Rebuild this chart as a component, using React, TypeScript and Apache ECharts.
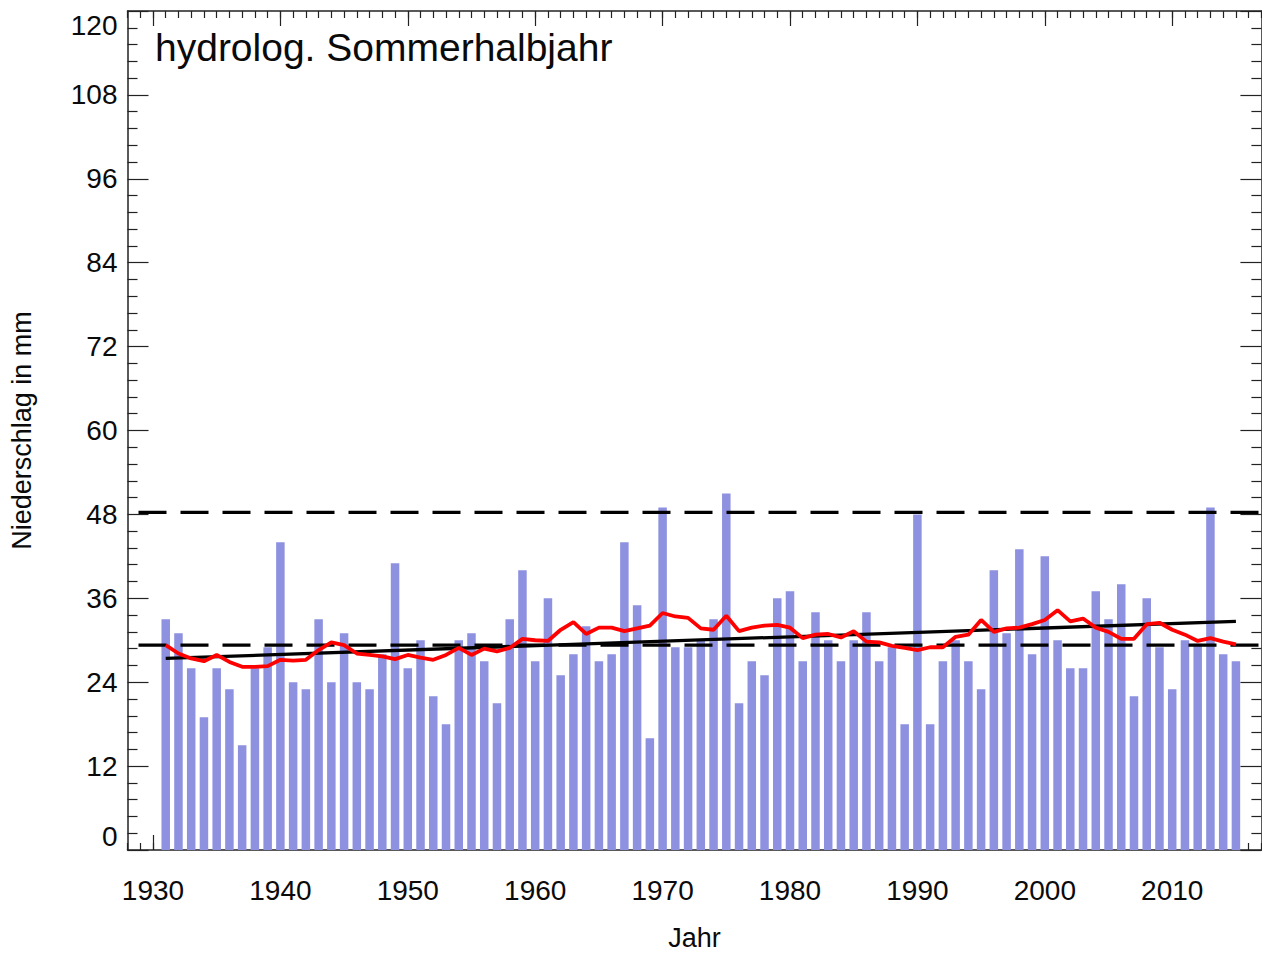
import React, { useEffect, useRef } from "react";
import * as echarts from "echarts";

const years = [
  1931, 1932, 1933, 1934, 1935, 1936, 1937, 1938, 1939, 1940,
  1941, 1942, 1943, 1944, 1945, 1946, 1947, 1948, 1949, 1950,
  1951, 1952, 1953, 1954, 1955, 1956, 1957, 1958, 1959, 1960,
  1961, 1962, 1963, 1964, 1965, 1966, 1967, 1968, 1969, 1970,
  1971, 1972, 1973, 1974, 1975, 1976, 1977, 1978, 1979, 1980,
  1981, 1982, 1983, 1984, 1985, 1986, 1987, 1988, 1989, 1990,
  1991, 1992, 1993, 1994, 1995, 1996, 1997, 1998, 1999, 2000,
  2001, 2002, 2003, 2004, 2005, 2006, 2007, 2008, 2009, 2010,
  2011, 2012, 2013, 2014, 2015,
];

const precipitation = [
  33, 31, 26, 19, 26, 23, 15, 26, 29, 44,
  24, 23, 33, 24, 31, 24, 23, 28, 41, 26,
  30, 22, 18, 30, 31, 27, 21, 33, 40, 27,
  36, 25, 28, 32, 27, 28, 44, 35, 16, 49,
  29, 29, 30, 33, 51, 21, 27, 25, 36, 37,
  27, 34, 30, 27, 30, 34, 27, 29, 18, 48,
  18, 27, 30, 27, 23, 40, 31, 43, 28, 42,
  30, 26, 26, 37, 33, 38, 22, 36, 29, 23,
  30, 29.5, 49, 28, 27,
];

const runningMean = [
  29.3, 28.1, 27.4, 27.0, 27.9, 26.9, 26.2, 26.2, 26.3, 27.2,
  27.1, 27.2, 28.6, 29.7, 29.3, 28.1, 27.9, 27.7, 27.3, 27.9,
  27.5, 27.2, 27.9, 28.9, 27.9, 28.8, 28.4, 28.9, 30.2, 30.0,
  29.9, 31.5, 32.6, 30.9, 31.8, 31.8, 31.3, 31.7, 32.1, 33.9,
  33.4, 33.2, 31.7, 31.5, 33.5, 31.3, 31.8, 32.1, 32.2, 31.8,
  30.3, 30.8, 30.9, 30.4, 31.3, 29.8, 29.7, 29.2, 28.9, 28.6,
  29.0, 29.0, 30.5, 30.8, 32.9, 31.2, 31.7, 31.8, 32.3, 32.9,
  34.3, 32.7, 33.1, 31.8, 31.2, 30.2, 30.2, 32.3, 32.5, 31.5,
  30.8, 29.9, 30.3, 29.8, 29.4,
];

const trendYears = [1931, 2015];
const trendValues = [27.4, 32.7];

const meanLevel = 29.3;
const upperLevel = 48.3;

const xMin = 1928;
const xMax = 2017;
const yTickInterval = 12;
const yMax = 120;

const tickYears: string[] = [];
for (let y = xMin; y <= xMax; y++) tickYears.push(String(y));

const FONT = "Liberation Sans, Arial, Helvetica, sans-serif";
const AXIS_COLOR = "#222";
const TEXT_COLOR = "#0a0a0a";

export default function App() {
  const ref = useRef<HTMLDivElement>(null);

  useEffect(() => {
    document.body.style.margin = "0";
    if (!ref.current) return;
    const chart = echarts.init(ref.current, undefined, { renderer: "svg" });

    const isDecade = (_i: number, v: string) => Number(v) % 10 === 0;

    const catAxisBase = (position: "top" | "bottom") => ({
      type: "category" as const,
      data: tickYears,
      position,
      boundaryGap: false,
      axisLine: { show: false, onZero: false },
      axisLabel: { show: false },
      splitLine: { show: false },
    });

    const dashed = [28, 14];

    const option: any = {
      animation: false,
      backgroundColor: "#ffffff",
      title: {
        text: "hydrolog. Sommerhalbjahr",
        left: 155,
        top: 28,
        padding: 0,
        textStyle: {
          fontFamily: FONT,
          fontSize: 39,
          fontWeight: "normal",
          color: TEXT_COLOR,
        },
      },
      grid: {
        left: 127.5,
        right: 0.6,
        top: 11,
        bottom: 104,
        containLabel: false,
      },
      xAxis: [
        {
          ...catAxisBase("bottom"),
          axisLine: { show: true, onZero: false, lineStyle: { color: AXIS_COLOR, width: 1.5 } },
          axisTick: { show: true, inside: true, length: 7, interval: 0, lineStyle: { color: AXIS_COLOR, width: 1.2 } },
          axisLabel: {
            show: true,
            interval: isDecade,
            fontFamily: FONT,
            fontSize: 28,
            color: TEXT_COLOR,
            margin: 26,
          },
          name: "Jahr",
          nameLocation: "middle",
          nameGap: 74,
          nameTextStyle: { fontFamily: FONT, fontSize: 27, color: TEXT_COLOR },
        },
        {
          ...catAxisBase("bottom"),
          axisTick: { show: true, inside: true, length: 15, interval: isDecade, lineStyle: { color: AXIS_COLOR, width: 1.2 } },
        },
        {
          ...catAxisBase("top"),
          axisLine: { show: true, onZero: false, lineStyle: { color: AXIS_COLOR, width: 1.5 } },
          axisTick: { show: true, inside: true, length: 7, interval: 0, lineStyle: { color: AXIS_COLOR, width: 1.2 } },
        },
        {
          ...catAxisBase("top"),
          axisTick: { show: true, inside: true, length: 15, interval: isDecade, lineStyle: { color: AXIS_COLOR, width: 1.2 } },
        },
        {
          type: "value",
          min: xMin,
          max: xMax,
          show: false,
          position: "bottom",
          axisLine: { onZero: false },
          splitLine: { show: false },
        },
      ],
      yAxis: [
        {
          type: "value",
          min: 0,
          max: yMax,
          interval: yTickInterval,
          position: "left",
          axisLine: { show: true, onZero: false, lineStyle: { color: AXIS_COLOR, width: 1.5 } },
          axisTick: { show: true, inside: true, length: 21, lineStyle: { color: AXIS_COLOR, width: 1.2 } },
          minorTick: { show: true, splitNumber: 5, length: 10, lineStyle: { color: AXIS_COLOR, width: 1.2 } },
          splitLine: { show: false },
          axisLabel: {
            fontFamily: FONT,
            fontSize: 28,
            color: TEXT_COLOR,
            margin: 10,
            verticalAlignMinLabel: "bottom",
            verticalAlignMaxLabel: "top",
          },
          name: "Niederschlag in mm",
          nameLocation: "middle",
          nameRotate: 90,
          nameGap: 92,
          nameTextStyle: { fontFamily: FONT, fontSize: 27, color: TEXT_COLOR },
        },
        {
          type: "value",
          min: 0,
          max: yMax,
          interval: yTickInterval,
          position: "right",
          axisLine: { show: true, onZero: false, lineStyle: { color: AXIS_COLOR, width: 1.5 } },
          axisTick: { show: true, inside: true, length: 21, lineStyle: { color: AXIS_COLOR, width: 1.2 } },
          minorTick: { show: true, splitNumber: 5, length: 10, lineStyle: { color: AXIS_COLOR, width: 1.2 } },
          splitLine: { show: false },
          axisLabel: { show: false },
        },
      ],
      series: [
        {
          type: "bar",
          xAxisIndex: 4,
          yAxisIndex: 0,
          barWidth: 8.5,
          itemStyle: { color: "#8d91df" },
          data: years.map((y, i) => [y, precipitation[i]]),
          z: 2,
        },
        {
          type: "line",
          xAxisIndex: 4,
          yAxisIndex: 0,
          showSymbol: false,
          lineStyle: { color: "#000", width: 3.3, type: dashed, dashOffset: 31 },
          data: [[xMin, upperLevel], [xMax, upperLevel]],
          z: 3,
        },
        {
          type: "line",
          xAxisIndex: 4,
          yAxisIndex: 0,
          showSymbol: false,
          lineStyle: { color: "#000", width: 3.3, type: dashed, dashOffset: 31 },
          data: [[xMin, meanLevel], [xMax, meanLevel]],
          z: 3,
        },
        {
          type: "line",
          xAxisIndex: 4,
          yAxisIndex: 0,
          showSymbol: false,
          lineStyle: { color: "#000", width: 3.3 },
          data: trendYears.map((y, i) => [y, trendValues[i]]),
          z: 4,
        },
        {
          type: "line",
          xAxisIndex: 4,
          yAxisIndex: 0,
          showSymbol: false,
          lineStyle: { color: "#ff0000", width: 3.8 },
          data: years.map((y, i) => [y, runningMean[i]]),
          z: 5,
        },
      ],
    };

    chart.setOption(option);
    return () => chart.dispose();
  }, []);

  return <div ref={ref} style={{ width: 1262, height: 956 }} />;
}
